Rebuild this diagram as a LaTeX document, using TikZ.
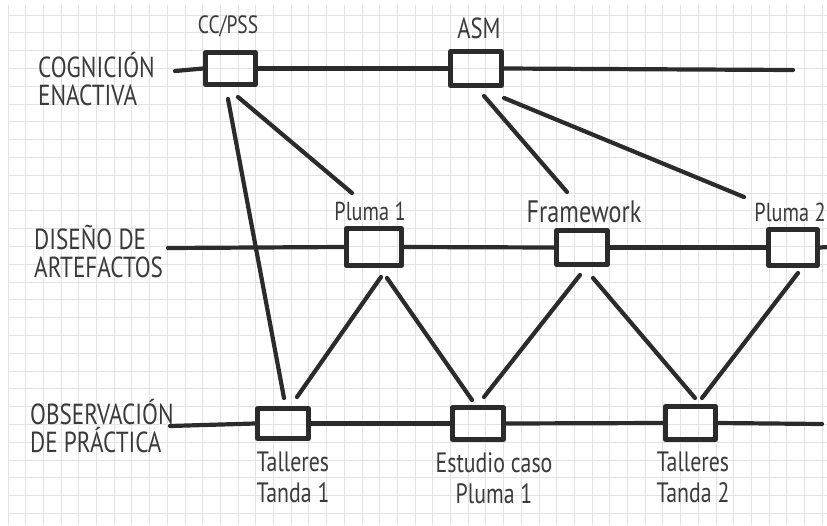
\documentclass[tikz,border=0pt]{standalone}
\usepackage{fontspec}
\newfontfamily\hand[FakeStretch=0.78]{PT Sans}
\newfontfamily\handcaps[FakeStretch=0.8]{PT Sans}
\definecolor{inkc}{HTML}{2B2B2B}
\definecolor{penc}{HTML}{3A3A3A}
\definecolor{gridc}{HTML}{E2E2E2}
\begin{document}
\begin{tikzpicture}[x=1pt,y=-1pt,
  ink/.style={draw=inkc, line width=4.2pt, line cap=round, line join=round},
  frame/.style={draw=inkc, line width=5pt, line join=round, rectangle, inner sep=0pt},
  rowlab/.style={text=penc, align=left, anchor=north west, inner sep=0pt,
    font=\handcaps\fontsize{29}{28}\selectfont},
  toplab/.style={text=penc, inner sep=0pt, font=\hand\fontsize{25}{30}\selectfont},
  botlab/.style={text=penc, align=center, anchor=north, inner sep=0pt,
    font=\hand\fontsize{28}{31}\selectfont}]
% paper
\useasboundingbox (0,0) rectangle (827,525);
\fill[white] (0,0) rectangle (827,525);
\foreach \k in {0,...,46} \draw[gridc, line width=1pt] (8+17.7*\k,5) -- (8+17.7*\k,525);
\foreach \k in {0,...,28} \draw[gridc, line width=1pt] (8,15+17.8*\k) -- (827,15+17.8*\k);

% row captions
\node[rowlab] (r1) at (38,52) {COGNICIÓN\\ENACTIVA};
\node[rowlab] (r2) at (34,225) {DISEÑO DE\\ARTEFACTOS};
\node[rowlab] (r3) at (30,399) {OBSERVACIÓN\\DE PRÁCTICA};

% boxes
\node[frame, minimum width=50pt, minimum height=32pt] (cc)  at (230.5,68.5) {};
\node[frame, minimum width=51pt, minimum height=34pt] (asm) at (476,68.5) {};
\node[frame, minimum width=55pt, minimum height=37pt] (p1)  at (374,247) {};
\node[frame, minimum width=51pt, minimum height=34pt] (fw)  at (582,247.5) {};
\node[frame, minimum width=49pt, minimum height=36pt] (p2)  at (793,247.5) {};
\node[frame, minimum width=51pt, minimum height=30pt] (t1)  at (283,423.5) {};
\node[frame, minimum width=51pt, minimum height=32pt] (es)  at (478,423.5) {};
\node[frame, minimum width=50pt, minimum height=33pt] (t2)  at (690.5,423) {};

% box labels
\node[toplab] (lcc)  at (228,26) {CC/PSS};
\node[toplab, font=\hand\fontsize{29}{30}\selectfont] (lasm) at (479,28) {ASM};
\node[toplab, font=\hand\fontsize{26}{30}\selectfont] (lp1)  at (370,211) {Pluma 1};
\node[toplab, font=\hand\fontsize{31}{30}\selectfont] (lfw)  at (584,212) {Framework};
\node[toplab, font=\hand\fontsize{26}{30}\selectfont] (lp2)  at (790,212) {Pluma 2};
\node[botlab] (lt1)  at (293,452) {Talleres\\Tanda 1};
\node[botlab] (les)  at (494,452) {Estudio caso\\Pluma 1};
\node[botlab] (lt2)  at (693,452) {Talleres\\Tanda 2};

% free ends of the time lines
\coordinate (a1) at (175,71);  \coordinate (b1) at (793,70);
\coordinate (a2) at (168,248); \coordinate (b2) at (829,247);
\coordinate (a3) at (170,426); \coordinate (b3) at (822,424);

% time lines
\draw[ink] (a1) -- (cc.west);  \draw[ink] (cc.east) -- (asm.west); \draw[ink] (asm.east) -- (b1);
\draw[ink] (a2) -- (p1.west);  \draw[ink] (p1.east) -- (fw.west);  \draw[ink] (fw.east) -- (p2.west);
\draw[ink] (p2.east) -- (b2);
\draw[ink] (a3) -- (t1.west);  \draw[ink] (t1.east) -- (es.west);  \draw[ink] (es.east) -- (t2.west);
\draw[ink] (t2.east) -- (b3);

% links between levels
\draw[ink] ([shift={(-2.5,30.5)}]cc.center) -- ([shift={(1,-25.5)}]t1.center);
\draw[ink] ([shift={(7.5,28.5)}]cc.center) -- ([shift={(-22,-54)}]p1.center);
\draw[ink] ([shift={(8,27.5)}]asm.center) -- ([shift={(-15,-55.5)}]fw.center);
\draw[ink] ([shift={(28,29.5)}]asm.center) -- ([shift={(-49,-50.5)}]p2.center);
\draw[ink] ([shift={(7,30)}]p1.center) -- ([shift={(14,-26.5)}]t1.center);
\draw[ink] ([shift={(13,31)}]p1.center) -- ([shift={(-6,-23.5)}]es.center);
\draw[ink] ([shift={(-2,27.5)}]fw.center) -- ([shift={(6,-26.5)}]es.center);
\draw[ink] ([shift={(11,30.5)}]fw.center) -- ([shift={(4.5,-25)}]t2.center);
\draw[ink] ([shift={(5,25.5)}]p2.center) -- ([shift={(11.5,-25)}]t2.center);
\end{tikzpicture}
\end{document}
